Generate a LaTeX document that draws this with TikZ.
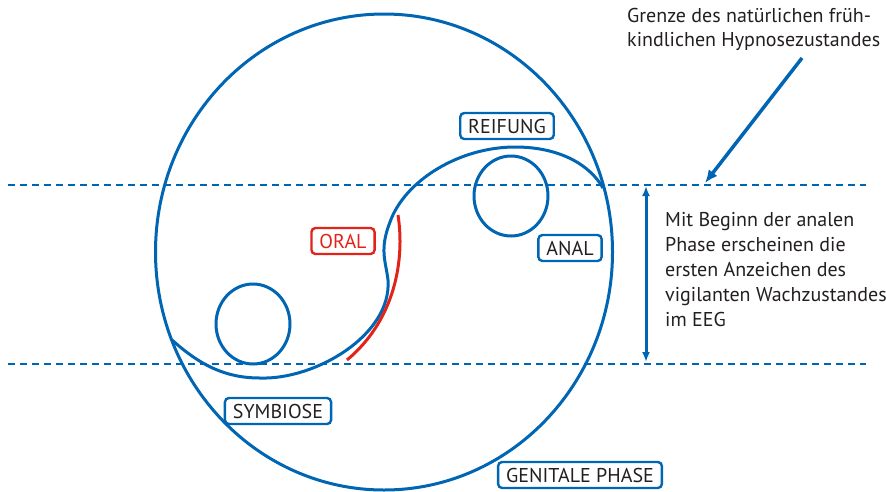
\documentclass[tikz,border=0pt]{standalone}
\usepackage{fontspec}
\setmainfont{PT Sans}
\usepackage{tikz}
\usetikzlibrary{arrows.meta}
\definecolor{psyblue}{RGB}{0,102,179}
\definecolor{psyred}{RGB}{226,35,26}
\definecolor{psytext}{RGB}{35,31,32}

\begin{document}
\begin{tikzpicture}[x=1pt, y=-1pt,
        phase/.style={draw=psyblue, line width=2.4pt, rounded corners=4pt, text=psytext,
            inner xsep=8pt, inner ysep=0pt, minimum height=26pt, font=\fontsize{20}{24}\selectfont},
        outline/.style={draw=psyblue, line width=3pt},
        grenze/.style={draw=psyblue, line width=2.6pt, dash pattern=on 7pt off 5pt},
        note/.style={text=psytext, align=left, inner sep=0pt, anchor=north west}]
    \useasboundingbox (0,0) rectangle (886,491);

    % Ellipse und Kreise
    \draw[outline] (384,252) ellipse [x radius=228.5, y radius=238];
    \draw[outline] (511,196) ellipse [x radius=37, y radius=40];
    \draw[outline] (253,324) ellipse [x radius=37, y radius=40];
    \draw[outline] (172,340) .. controls (200,365) and (225,378) .. (260,378)
        .. controls (315,380) and (392,335) .. (388,280)
        .. controls (386,262) and (379,250) .. (390,222)
        .. controls (405,180) and (460,147) .. (515,147)
        .. controls (560,147) and (590,165) .. (603,188);
    \draw[psyred, line width=3pt] (398,215) .. controls (405,260) and (395,320) .. (347,360);

    % Grenzlinien
    \coordinate (obenL) at (8,185);
    \coordinate (obenR) at (866,185);
    \coordinate (untenL) at (8,364);
    \coordinate (untenR) at (866,364);
    \draw[grenze] (obenL) -- (obenR);
    \draw[grenze] (untenL) -- (untenR);

    % Beschriftungen
    \node[phase] (reifung) at (507,126) {REIFUNG};
    \node[phase, draw=psyred, text=psyred] (oral) at (343,241) {ORAL};
    \node[phase] (anal) at (570,248) {ANAL};
    \node[phase] (symbiose) at (278,411) {SYMBIOSE};
    \node[phase] (genital) at (580,475) {GENITALE PHASE};

    \node[note, font=\fontsize{20}{24}\selectfont] (hypnose) at (627,8)
        {Grenze des natürlichen früh-\\kindlichen Hypnosezustandes};
    \node[note, font=\fontsize{20}{25}\selectfont] (wach) at (665,212)
        {Mit Beginn der analen\\Phase erscheinen die\\ersten Anzeichen des\\vigilanten Wachzustandes\\im EEG};

    % Pfeile
    \coordinate (pfeilA) at (802,58);
    \coordinate (pfeilB) at (705,183);
    \draw[psyblue, line width=3.5pt, -{Latex[length=13pt, width=11pt]}] (pfeilA) -- (pfeilB);
    \coordinate (phaseO) at (646,186);
    \coordinate (phaseU) at (646,362);
    \draw[psyblue, line width=3pt, {Latex[length=10pt, width=8pt]}-{Latex[length=10pt, width=8pt]}] (phaseO) -- (phaseU);
\end{tikzpicture}
\end{document}
